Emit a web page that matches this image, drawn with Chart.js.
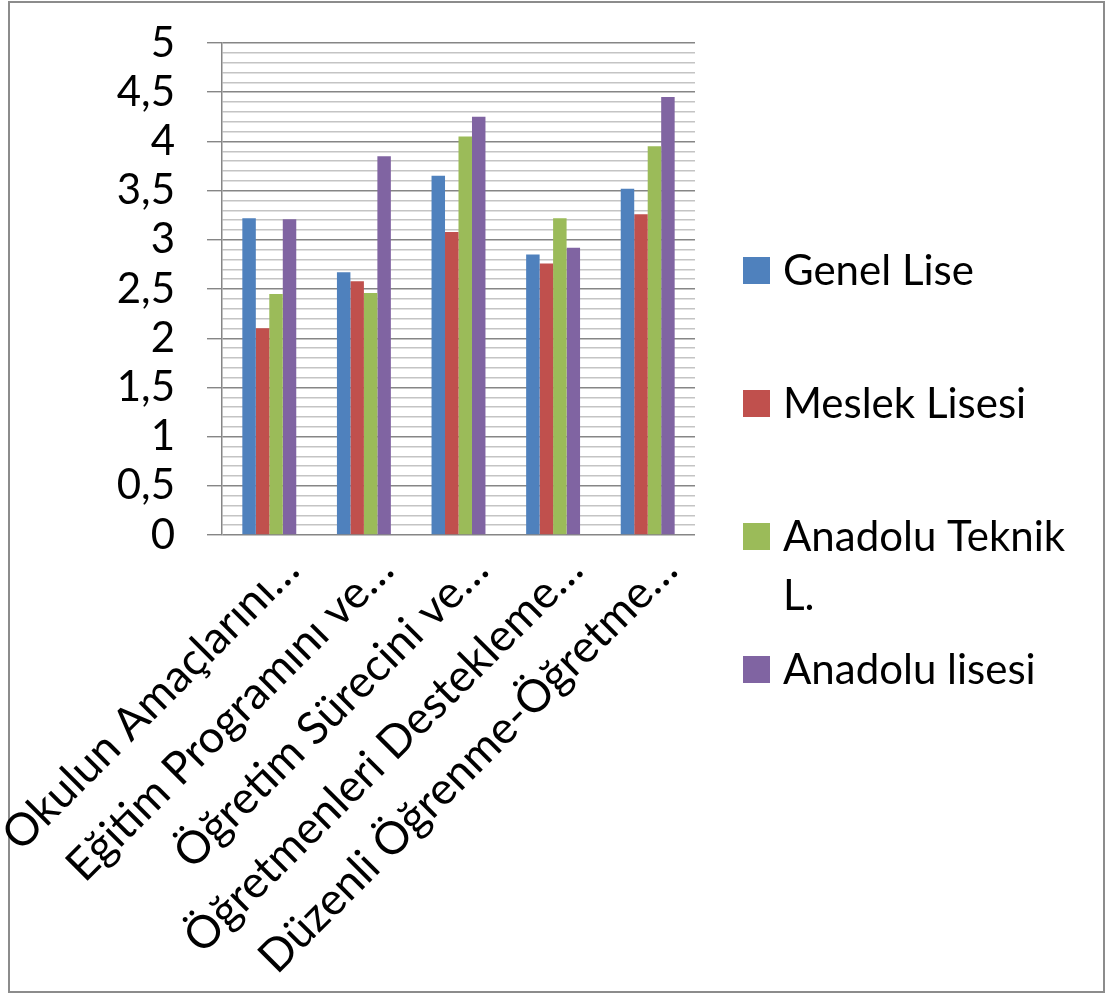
<!DOCTYPE html>
<html>
<head>
<meta charset="utf-8">
<script src="https://cdn.jsdelivr.net/npm/chart.js@4.4.1/dist/chart.umd.min.js"></script>
<style>
  html, body { margin: 0; padding: 0; background: #fff; }
</style>
</head>
<body>
<canvas id="chart" width="1113" height="994"></canvas>
<script>
// data
const categories = [
  'Okulun Amaçlarını…',
  'Eğitim Programını ve…',
  'Öğretim Sürecini ve…',
  'Öğretmenleri Destekleme…',
  'Düzenli Öğrenme-Öğretme…'
];
const genelLise     = [3.22, 2.67, 3.65, 2.85, 3.52];
const meslekLisesi  = [2.10, 2.58, 3.08, 2.76, 3.26];
const anadoluTeknik = [2.45, 2.46, 4.05, 3.22, 3.95];
const anadoluLisesi = [3.21, 3.85, 4.25, 2.92, 4.45];
const seriesNames = ['Genel Lise', 'Meslek Lisesi', 'Anadolu Teknik L.', 'Anadolu lisesi'];
const legendLines = [['Genel Lise'], ['Meslek Lisesi'], ['Anadolu Teknik', 'L.'], ['Anadolu lisesi']];
const seriesColors = ['#4F81BD', '#C0504D', '#9BBB59', '#8064A2'];

const FONT = 'Lato';
const isMajor = v => Math.abs(v * 2 - Math.round(v * 2)) < 1e-6;

// outer frame, like the pasted office chart
const framePlugin = {
  id: 'frame',
  beforeDraw(chart) {
    const {ctx} = chart;
    ctx.save();
    ctx.fillStyle = '#fff';
    ctx.fillRect(0, 0, chart.width, chart.height);
    ctx.strokeStyle = '#8c8c8c';
    ctx.lineWidth = 2;
    ctx.strokeRect(9, 2, 1095, 990);
    ctx.restore();
  }
};

// legend on the right, with the wrapped third entry
const sideLegend = {
  id: 'sideLegend',
  afterDraw(chart) {
    const {ctx} = chart;
    ctx.save();
    ctx.font = '42px ' + FONT;
    ctx.textBaseline = 'alphabetic';
    chart.data.datasets.forEach((ds, i) => {
      const cy = 270 + i * 133;
      ctx.fillStyle = ds.backgroundColor;
      ctx.fillRect(743, cy - 13, 27, 27);
      ctx.fillStyle = '#000';
      legendLines[i].forEach((t, j) => ctx.fillText(t, 783, cy + 15 + j * 59));
    });
    ctx.restore();
  }
};

const series = [genelLise, meslekLisesi, anadoluTeknik, anadoluLisesi];

new Chart(document.getElementById('chart'), {
  type: 'bar',
  data: {
    labels: categories,
    datasets: series.map((d, i) => ({
      label: seriesNames[i],
      data: d,
      backgroundColor: seriesColors[i],
      borderWidth: 0,
      categoryPercentage: 0.57,
      barPercentage: 1
    }))
  },
  options: {
    responsive: false,
    animation: false,
    layout: {
      autoPadding: false,
      padding: {top: 43, right: 418, left: 0, bottom: 0}
    },
    plugins: {
      legend: {display: false},
      tooltip: {enabled: false}
    },
    scales: {
      x: {
        grid: {drawOnChartArea: false, drawTicks: false},
        border: {display: false},
        ticks: {
          autoSkip: false,
          minRotation: 45,
          maxRotation: 45,
          padding: 8,
          labelOffset: 22,
          color: '#000',
          font: {family: FONT, size: 45}
        },
        afterFit: s => {
          s.height = 994 - 535;
          s.paddingLeft = 0;
          s.paddingRight = 0;
        }
      },
      y: {
        min: 0,
        max: 5,
        ticks: {
          stepSize: 0.1,
          autoSkip: false,
          padding: 32,
          color: '#000',
          font: {family: FONT, size: 42},
          callback: v => isMajor(v) ? String(Math.round(v * 10) / 10).replace('.', ',') : ''
        },
        grid: {
          color: c => isMajor(c.tick.value) ? '#868686' : '#c4c4c4',
          tickColor: c => isMajor(c.tick.value) ? '#868686' : 'rgba(0,0,0,0)',
          tickLength: 15,
          lineWidth: 1.4
        },
        border: {color: '#868686', width: 1.5},
        afterFit: s => {
          s.width = 222;
          s.paddingTop = 0;
          s.paddingBottom = 0;
        }
      }
    }
  },
  plugins: [framePlugin, sideLegend]
});
</script>
</body>
</html>
